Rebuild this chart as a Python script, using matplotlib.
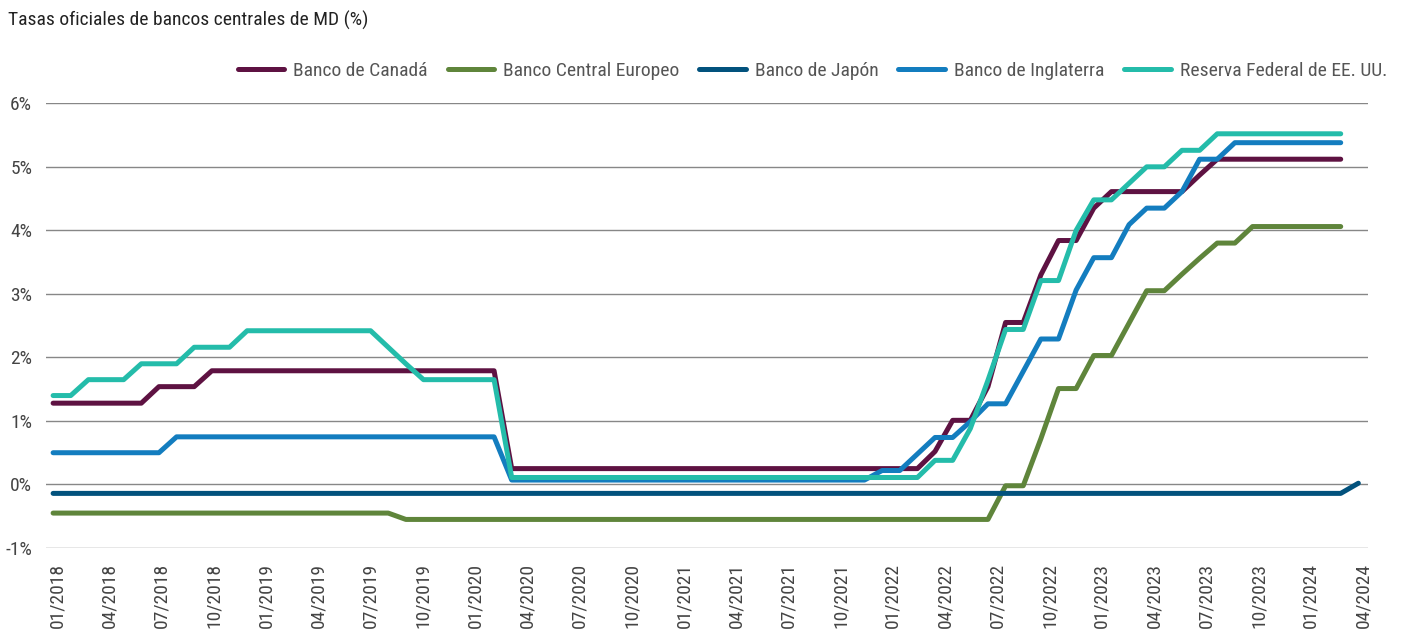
import matplotlib
matplotlib.use('Agg')
import matplotlib.pyplot as plt
import numpy as np
from matplotlib import font_manager

# Monthly policy rates (%), Jan 2018 onwards
canada = [
    1.28, 1.28, 1.28, 1.28, 1.28, 1.28, 1.54, 1.54, 1.54, 1.79, 1.79, 1.79,
    1.79, 1.79, 1.79, 1.79, 1.79, 1.79, 1.79, 1.79, 1.79, 1.79, 1.79, 1.79,
    1.79, 1.79, 0.25, 0.25, 0.25, 0.25, 0.25, 0.25, 0.25, 0.25, 0.25, 0.25,
    0.25, 0.25, 0.25, 0.25, 0.25, 0.25, 0.25, 0.25, 0.25, 0.25, 0.25, 0.25,
    0.25, 0.25, 0.52, 1.01, 1.01, 1.54, 2.55, 2.55, 3.30, 3.84, 3.84, 4.35,
    4.61, 4.61, 4.61, 4.61, 4.61, 4.87, 5.12, 5.12, 5.12, 5.12, 5.12, 5.12,
    5.12, 5.12,
]
ecb = [
    -0.45, -0.45, -0.45, -0.45, -0.45, -0.45, -0.45, -0.45, -0.45, -0.45, -0.45, -0.45,
    -0.45, -0.45, -0.45, -0.45, -0.45, -0.45, -0.45, -0.45, -0.55, -0.55, -0.55, -0.55,
    -0.55, -0.55, -0.55, -0.55, -0.55, -0.55, -0.55, -0.55, -0.55, -0.55, -0.55, -0.55,
    -0.55, -0.55, -0.55, -0.55, -0.55, -0.55, -0.55, -0.55, -0.55, -0.55, -0.55, -0.55,
    -0.55, -0.55, -0.55, -0.55, -0.55, -0.55, -0.02, -0.02, 0.72, 1.51, 1.51, 2.03,
    2.03, 2.54, 3.05, 3.05, 3.31, 3.56, 3.80, 3.80, 4.06, 4.06, 4.06, 4.06,
    4.06, 4.06,
]
japan = [
    -0.14, -0.14, -0.14, -0.14, -0.14, -0.14, -0.14, -0.14, -0.14, -0.14, -0.14, -0.14,
    -0.14, -0.14, -0.14, -0.14, -0.14, -0.14, -0.14, -0.14, -0.14, -0.14, -0.14, -0.14,
    -0.14, -0.14, -0.14, -0.14, -0.14, -0.14, -0.14, -0.14, -0.14, -0.14, -0.14, -0.14,
    -0.14, -0.14, -0.14, -0.14, -0.14, -0.14, -0.14, -0.14, -0.14, -0.14, -0.14, -0.14,
    -0.14, -0.14, -0.14, -0.14, -0.14, -0.14, -0.14, -0.14, -0.14, -0.14, -0.14, -0.14,
    -0.14, -0.14, -0.14, -0.14, -0.14, -0.14, -0.14, -0.14, -0.14, -0.14, -0.14, -0.14,
    -0.14, -0.14, 0.02,
]
england = [
    0.50, 0.50, 0.50, 0.50, 0.50, 0.50, 0.50, 0.75, 0.75, 0.75, 0.75, 0.75,
    0.75, 0.75, 0.75, 0.75, 0.75, 0.75, 0.75, 0.75, 0.75, 0.75, 0.75, 0.75,
    0.75, 0.75, 0.07, 0.07, 0.07, 0.07, 0.07, 0.07, 0.07, 0.07, 0.07, 0.07,
    0.07, 0.07, 0.07, 0.07, 0.07, 0.07, 0.07, 0.07, 0.07, 0.07, 0.07, 0.22,
    0.22, 0.48, 0.74, 0.74, 0.99, 1.27, 1.27, 1.78, 2.29, 2.29, 3.06, 3.57,
    3.57, 4.09, 4.35, 4.35, 4.61, 5.12, 5.12, 5.38, 5.38, 5.38, 5.38, 5.38,
    5.38, 5.38,
]
fed = [
    1.40, 1.40, 1.65, 1.65, 1.65, 1.90, 1.90, 1.90, 2.16, 2.16, 2.16, 2.42,
    2.42, 2.42, 2.42, 2.42, 2.42, 2.42, 2.42, 2.16, 1.90, 1.65, 1.65, 1.65,
    1.65, 1.65, 0.11, 0.11, 0.11, 0.11, 0.11, 0.11, 0.11, 0.11, 0.11, 0.11,
    0.11, 0.11, 0.11, 0.11, 0.11, 0.11, 0.11, 0.11, 0.11, 0.11, 0.11, 0.11,
    0.11, 0.11, 0.38, 0.38, 0.88, 1.64, 2.44, 2.44, 3.21, 3.21, 4.00, 4.48,
    4.48, 4.74, 5.00, 5.00, 5.26, 5.26, 5.52, 5.52, 5.52, 5.52, 5.52, 5.52,
    5.52, 5.52,
]

series_names = ['Banco de Canadá', 'Banco Central Europeo', 'Banco de Japón',
                'Banco de Inglaterra', 'Reserva Federal de EE. UU.']
series_colors = ['#5e1242', '#5f853b', '#02527d', '#137dbf', '#24bcaa']

tick_labels = ['01/2018', '04/2018', '07/2018', '10/2018',
               '01/2019', '04/2019', '07/2019', '10/2019',
               '01/2020', '04/2020', '07/2020', '10/2020',
               '01/2021', '04/2021', '07/2021', '10/2021',
               '01/2022', '04/2022', '07/2022', '10/2022',
               '01/2023', '04/2023', '07/2023', '10/2023',
               '01/2024', '04/2024']

# pick a narrow sans if one is around
avail = {f.name for f in font_manager.fontManager.ttflist}
font = 'DejaVu Sans'
for cand in ['Roboto Condensed', 'Liberation Sans Narrow', 'DejaVu Sans Condensed', 'Roboto']:
    if cand in avail:
        font = cand
        break
plt.rcParams['font.family'] = [font, 'DejaVu Sans']
fs = 14

fig = plt.figure(figsize=(14.04, 6.31), dpi=100)
ax = fig.add_axes([0.0328, 0.1315, 0.9416, 0.7048])

all_series = [canada, ecb, japan, england, fed]
for vals, name, col in zip(all_series, series_names, series_colors):
    ax.plot(np.arange(len(vals)), vals, color=col, lw=3.6, label=name,
            solid_capstyle='round', solid_joinstyle='round', zorder=3)

ax.set_ylim(-1, 6)
ax.set_xlim(-0.4, 74.55)
ax.set_yticks(range(-1, 7))
ax.set_yticklabels([f'{v}%' for v in range(-1, 7)])
ax.yaxis.grid(True, color='#878787', lw=1.0)
ax.set_axisbelow(True)

# the source's date labels sit a touch tighter than the monthly points
tick_pos = np.linspace(0.23, 74.26, len(tick_labels))
ax.set_xticks(tick_pos)
ax.set_xticklabels(tick_labels, rotation=90, ha='center', va='top')

for s in ax.spines.values():
    s.set_visible(False)
ax.tick_params(axis='both', length=0, labelsize=fs, colors='#444444')
ax.tick_params(axis='y', pad=10)
ax.tick_params(axis='x', pad=11)

fig.text(8 / 1404, 1 - 20 / 631, 'Tasas oficiales de bancos centrales de MD (%)',
         ha='left', va='center', fontsize=fs, color='#222222')

fig.legend(loc='center right', bbox_to_anchor=(1387 / 1404, 1 - 71 / 631), ncol=5,
           frameon=False, fontsize=fs, labelcolor='#555555', handlelength=2.4,
           handletextpad=0.45, columnspacing=1.03, borderpad=0, borderaxespad=0)

fig.savefig('out.png', dpi=100)
